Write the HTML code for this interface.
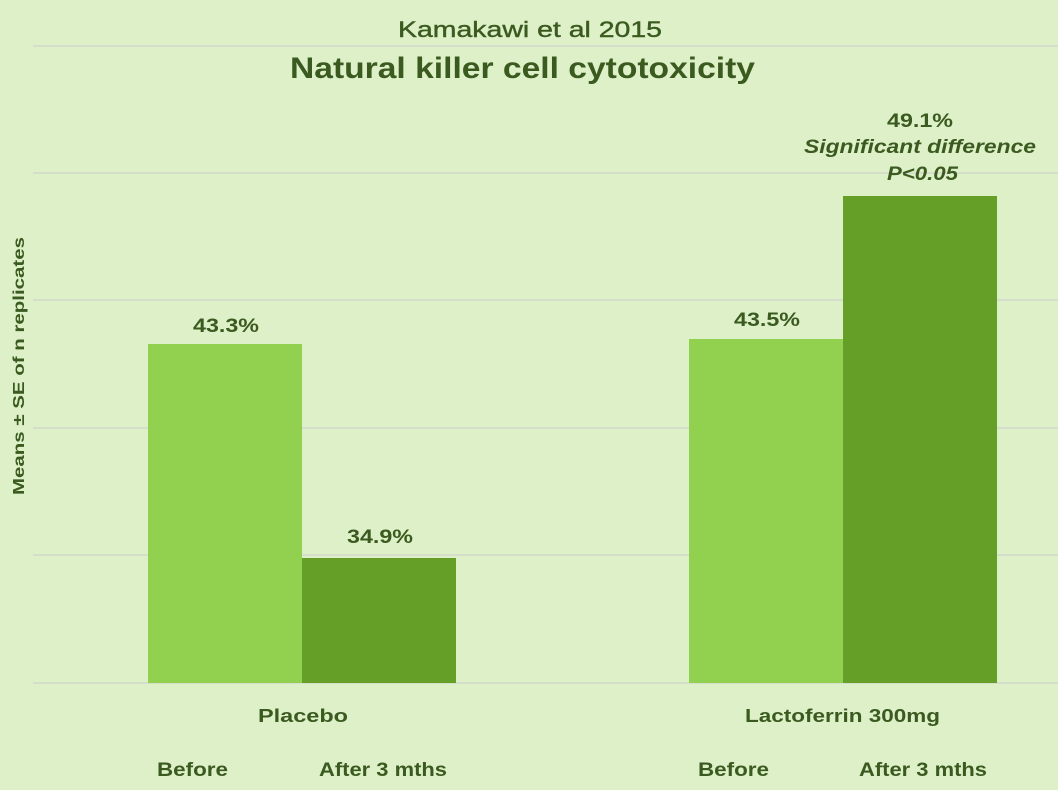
<!DOCTYPE html>
<html><head><meta charset="utf-8"><style>
html,body{margin:0;padding:0;background:#ddf0c8;}
svg{display:block;}
text{font-family:"Liberation Sans",sans-serif;fill:#3b5a1f;font-weight:bold;}
</style></head><body>
<svg width="1058" height="790" viewBox="0 0 1058 790">
<rect width="1058" height="790" fill="#ddf0c8"/>
<g stroke="#d2d8cc" stroke-width="1.5">
<line x1="33" y1="46" x2="1058" y2="46"/>
<line x1="33" y1="173" x2="1058" y2="173"/>
<line x1="33" y1="300" x2="1058" y2="300"/>
<line x1="33" y1="428" x2="1058" y2="428"/>
<line x1="33" y1="555" x2="1058" y2="555"/>
<line x1="33" y1="683" x2="1058" y2="683"/>
</g>
<rect x="148" y="344" width="154" height="339" fill="#92d050"/>
<rect x="302" y="558" width="154" height="125" fill="#669f28"/>
<rect x="689" y="339" width="154" height="344" fill="#92d050"/>
<rect x="843" y="196" width="154" height="487" fill="#669f28"/>
<text x="398" y="37" font-size="22" textLength="264" lengthAdjust="spacingAndGlyphs" style="font-weight:normal;stroke:#3b5a1f;stroke-width:0.4">Kamakawi et al 2015</text>
<text x="290" y="78" font-size="30" textLength="465" lengthAdjust="spacingAndGlyphs">Natural killer cell cytotoxicity</text>
<text x="193" y="332" font-size="19" textLength="66" lengthAdjust="spacingAndGlyphs">43.3%</text>
<text x="347" y="543" font-size="19" textLength="66" lengthAdjust="spacingAndGlyphs">34.9%</text>
<text x="734" y="326" font-size="19" textLength="66" lengthAdjust="spacingAndGlyphs">43.5%</text>
<text x="887" y="127" font-size="19" textLength="66" lengthAdjust="spacingAndGlyphs">49.1%</text>
<text x="804" y="153" font-size="19" font-style="italic" textLength="232" lengthAdjust="spacingAndGlyphs">Significant difference</text>
<text x="887" y="180" font-size="19" font-style="italic" textLength="71" lengthAdjust="spacingAndGlyphs">P&lt;0.05</text>
<text x="258" y="722" font-size="18" textLength="90" lengthAdjust="spacingAndGlyphs">Placebo</text>
<text x="745" y="722" font-size="18" textLength="195" lengthAdjust="spacingAndGlyphs">Lactoferrin 300mg</text>
<text x="157" y="776" font-size="19" textLength="71" lengthAdjust="spacingAndGlyphs">Before</text>
<text x="319" y="776" font-size="19" textLength="128" lengthAdjust="spacingAndGlyphs">After 3 mths</text>
<text x="698" y="776" font-size="19" textLength="71" lengthAdjust="spacingAndGlyphs">Before</text>
<text x="859" y="776" font-size="19" textLength="128" lengthAdjust="spacingAndGlyphs">After 3 mths</text>
<text x="-129" y="0" font-size="16" textLength="258" lengthAdjust="spacingAndGlyphs" transform="translate(24,366) rotate(-90)">Means ± SE of n replicates</text>
</svg>
</body></html>
